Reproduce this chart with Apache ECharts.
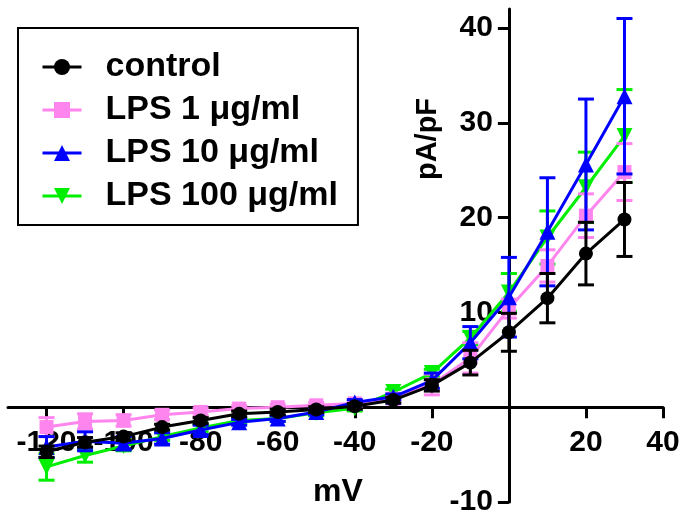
<!DOCTYPE html>
<html>
<head>
<meta charset="utf-8">
<script src="https://cdn.jsdelivr.net/npm/echarts@6/dist/echarts.min.js"></script>
<style>html,body{margin:0;padding:0;background:#fff}#c{width:684px;height:519px}</style>
</head>
<body>
<div id="c"></div>
<script>
// ---- data ----
var voltages = [-120,-110,-100,-90,-80,-70,-60,-50,-40,-30,-20,-10,0,10,20,30];
var seriesNames = ['control', 'LPS 1 μg/ml', 'LPS 10 μg/ml', 'LPS 100 μg/ml'];
var control    = [-4.7,-3.7,-3.1,-2.1,-1.4,-0.7,-0.5,-0.25,0.1,0.75,2.3,4.7,7.9,11.5,16.2,19.8];
var controlErr = [0.6,0.5,0.4,0.3,0.3,0.3,0.3,0.3,0.3,0.3,0.6,1.3,2.0,2.6,3.3,3.9];
var lps1       = [-2.1,-1.5,-1.4,-0.8,-0.5,-0.15,0.0,0.2,0.4,0.9,2.4,5.2,10.4,14.9,20.2,24.8];
var lps1Err    = [1.0,0.8,0.6,0.5,0.4,0.3,0.3,0.3,0.3,0.3,1.1,1.6,1.0,1.7,2.3,3.0];
var lps10      = [-4.2,-3.6,-3.8,-3.3,-2.4,-1.6,-1.2,-0.5,0.5,1.1,2.8,6.8,11.6,18.5,25.6,32.8];
var lps10Err   = [1.1,1.0,0.7,0.6,0.5,0.3,0.3,0.3,0.3,0.3,0.8,1.7,4.2,5.7,6.9,8.2];
var lps100     = [-6.3,-5.1,-4.1,-3.1,-2.2,-1.4,-1.2,-0.6,-0.1,1.6,3.6,7.3,12.1,17.9,23.2,28.6];
var lps100Err  = [1.4,0.7,0.5,0.4,0.4,0.3,0.3,0.3,0.3,0.3,0.4,0.7,2.0,2.8,3.7,4.9];
var xTickValues  = [-120,-100,-80,-60,-40,-20,0,20,40];
var xLabelValues = [-120,-100,-80,-60,-40,-20,20,40];
var yTickValues  = [-10,0,10,20,30,40];
var yLabelValues = [-10,10,20,30,40];
var xMin = -130, xMax = 40, yMin = -10, yMax = 42;
var xAxisName = 'mV';
var yAxisName = 'pA/pF';

var means = [control, lps1, lps10, lps100];
var errs = [controlErr, lps1Err, lps10Err, lps100Err];
var colors = ['#000000', '#ff85ee', '#0000ff', '#00ee00'];
var symbols = ['circle', 'rect', 'triangle', 'triangle'];
var rotates = [0, 0, 0, 180];
var zs = [10, 6, 8, 4];
var FONT = '"Liberation Sans", Arial, sans-serif';

function pairs(ys) { return voltages.map(function (v, i) { return [v, ys[i]]; }); }

var series = [];
for (var k = 0; k < 4; k++) {
  (function (k) {
    var errData = voltages.map(function (v, i) { return [v, means[k][i] - errs[k][i], means[k][i] + errs[k][i]]; });
    series.push({
      type: 'custom',
      name: seriesNames[k] + ' err',
      data: errData,
      z: zs[k] - 1,
      silent: true,
      encode: { x: 0, y: [1, 2] },
      renderItem: function (params, api) {
        var x = api.value(0);
        var lo = api.coord([x, api.value(1)]);
        var hi = api.coord([x, api.value(2)]);
        var w = 8;
        var st = { stroke: colors[k], lineWidth: 3, fill: null };
        return {
          type: 'group',
          children: [
            { type: 'line', shape: { x1: lo[0], y1: lo[1], x2: hi[0], y2: hi[1] }, style: st },
            { type: 'line', shape: { x1: lo[0] - w, y1: lo[1], x2: lo[0] + w, y2: lo[1] }, style: st },
            { type: 'line', shape: { x1: hi[0] - w, y1: hi[1], x2: hi[0] + w, y2: hi[1] }, style: st }
          ]
        };
      }
    });
    series.push({
      type: 'line',
      name: seriesNames[k],
      data: pairs(means[k]),
      z: zs[k],
      symbol: symbols[k],
      symbolRotate: rotates[k],
      symbolSize: k === 0 ? 14 : (k === 1 ? 14 : 16),
      showAllSymbol: true,
      lineStyle: { color: colors[k], width: 3 },
      itemStyle: { color: colors[k] },
      emphasis: { disabled: true },
      animation: false
    });
  })(k);
}

var chart = echarts.init(document.getElementById('c'), null, { renderer: 'canvas' });
var option = {
  animation: false,
  backgroundColor: '#ffffff',
  grid: { left: 8, right: 21, top: 9, bottom: 17, containLabel: false, outerBoundsMode: 'none' },
  legend: {
    data: seriesNames,
    orient: 'vertical',
    left: 18, top: 28,
    padding: [21, 20, 11, 23],
    itemWidth: 39, itemHeight: 20,
    itemGap: 7,
    borderColor: '#000', borderWidth: 2,
    backgroundColor: '#fff',
    lineStyle: { width: 3 },
    textStyle: { fontFamily: FONT, fontWeight: 'bold', fontSize: 34, color: '#000', lineHeight: 36, padding: [0, 0, 0, 19] }
  },
  xAxis: {
    type: 'value', min: xMin, max: xMax, position: 'bottom', offset: 0,
    axisLine: { onZero: false, lineStyle: { color: '#000', width: 3 } },
    axisTick: { show: true, length: 11, lineStyle: { color: '#000', width: 3 }, customValues: xTickValues },
    axisLabel: { customValues: xLabelValues, margin: 21, fontFamily: FONT, fontWeight: 'bold', fontSize: 30, color: '#000' },
    splitLine: { show: false }
  },
  yAxis: {
    type: 'value', min: yMin, max: yMax, position: 'left', offset: 0,
    axisLine: { onZero: false, lineStyle: { color: '#000', width: 3 } },
    axisTick: { show: true, length: 11, lineStyle: { color: '#000', width: 3 }, customValues: yTickValues },
    axisLabel: { customValues: yLabelValues, margin: 16, fontFamily: FONT, fontWeight: 'bold', fontSize: 30, color: '#000' },
    splitLine: { show: false }
  },
  graphic: [
    { type: 'text', x: 338, y: 492, style: { text: xAxisName, font: 'bold 32px ' + FONT, fill: '#000', align: 'center', verticalAlign: 'middle' } },
    { type: 'text', x: 428, y: 139, rotation: Math.PI / 2, style: { text: yAxisName, font: 'bold 29px ' + FONT, fill: '#000', align: 'center', verticalAlign: 'middle' } }
  ],
  series: series
};
chart.setOption(option);
// move the axes so they cross at the origin (0, 0)
var origin = chart.convertToPixel({ gridIndex: 0 }, [0, 0]);
var corner = chart.convertToPixel({ gridIndex: 0 }, [xMin, yMin]);
chart.setOption({
  xAxis: { offset: -(corner[1] - origin[1]) },
  yAxis: { offset: -(origin[0] - corner[0]) }
});
</script>
</body>
</html>
